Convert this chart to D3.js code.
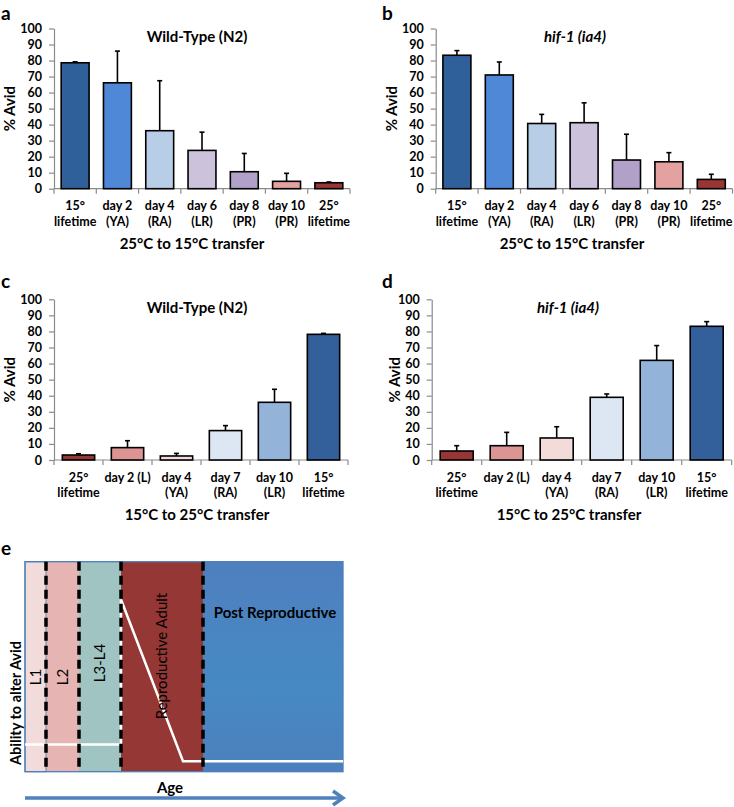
<!DOCTYPE html>
<html><head><meta charset="utf-8">
<script src="https://cdn.jsdelivr.net/npm/d3@7"></script>
<style>
body{margin:0;background:#fff}
svg{display:block}
text{font-family:Lato,"Open Sans",sans-serif;fill:#000}
</style>
</head><body>
<svg id="fig" width="734" height="807"></svg>
<script>
// ---------- DATA ----------
const yTicks = [0,10,20,30,40,50,60,70,80,90,100];

const categoriesAB = ["15°\nlifetime","day 2\n(YA)","day 4\n(RA)","day 6\n(LR)","day 8\n(PR)","day 10\n(PR)","25°\nlifetime"];
const colorsAB = ["#30609a","#4f88d6","#b8cde6","#cdc2db","#b1a0c8","#e3a2a0","#983633"];
const valuesA = [78.6, 66.1, 36.2, 23.9, 10.6, 4.6, 3.7];
const errorsA = [0.6, 19.8, 31.2, 11.4, 11.4, 5.0, 0.5];
const valuesB = [83.3, 71.0, 40.7, 41.2, 17.9, 16.8, 5.8];
const errorsB = [2.9, 8.1, 5.7, 12.4, 16.1, 5.7, 3.2];

const categoriesCD = ["25°\nlifetime","day 2 (L)","day 4\n(YA)","day 7\n(RA)","day 10\n(LR)","15°\nlifetime"];
const colorsCD = ["#983633","#dc9593","#f3dbda","#dde7f3","#94b3d9","#33609a"];
const valuesC = [3.1, 7.7, 2.5, 18.3, 35.9, 78.2];
const errorsC = [0.8, 4.3, 1.6, 3.1, 8.1, 0.6];
const valuesD = [5.6, 8.9, 13.7, 39.0, 62.0, 83.2];
const errorsD = [3.3, 8.3, 7.0, 2.1, 9.2, 2.9];

const titles = ["Wild-Type (N2)","hif-1 (ia4)","Wild-Type (N2)","hif-1 (ia4)"];
const xTitles = ["25°C to 15°C transfer","25°C to 15°C transfer","15°C to 25°C transfer","15°C to 25°C transfer"];
const yTitle = "% Avid";

// panel e schematic
const stageNames = ["L1","L2","L3-L4","Reproductive Adult","Post Reproductive"];
const stageEnds = [21, 54, 96, 178, 318];           // cumulative age units
const stageColors = ["#f2dcdb","#e6b4b3","#9fc4c2","#953735","url(#postGrad)"];
const abilityAge = [0, 96, 96, 158, 318];
const abilityLevel = [0.13, 0.13, 0.82, 0.05, 0.05];

// ---------- LAYOUT ----------
const svg = d3.select("#fig");
const defs = svg.append("defs");
const pg = defs.append("linearGradient").attr("id","postGrad").attr("x1",0).attr("y1",0).attr("x2",0).attr("y2",1);
[["0%","#4e7fbe"],["35%","#4a86c1"],["60%","#4689c3"],["100%","#4d80bd"]].forEach(s=>pg.append("stop").attr("offset",s[0]).attr("stop-color",s[1]));

const panels = [
  {letter:"a", lx:1,   ly:20,  left:54,    right:350,   top:28.5,  bottom:188.7, cats:categoriesAB, colors:colorsAB, vals:valuesA, errs:errorsA, title:titles[0], italic:false, tx:197, ylx:9.5, xtx:192},
  {letter:"b", lx:382, ly:20,  left:435.7, right:732.5, top:28.5,  bottom:188.7, cats:categoriesAB, colors:colorsAB, vals:valuesB, errs:errorsB, title:titles[1], italic:true,  tx:575, ylx:392, xtx:572},
  {letter:"c", lx:1,   ly:288, left:54,    right:348,   top:299.3, bottom:460,   cats:categoriesCD, colors:colorsCD, vals:valuesC, errs:errorsC, title:titles[2], italic:false, tx:197, ylx:9.5, xtx:197},
  {letter:"d", lx:382, ly:288, left:431.7, right:731.7, top:299.3, bottom:460,   cats:categoriesCD, colors:colorsCD, vals:valuesD, errs:errorsD, title:titles[3], italic:true,  tx:568, ylx:395, xtx:569}
];

panels.forEach((p,pi)=>{
  const g = svg.append("g");
  const y = d3.scaleLinear().domain([0,100]).range([p.bottom,p.top]);
  const x = d3.scaleBand().domain(p.cats).range([p.left,p.right]).paddingInner(0.34).paddingOuter(0.17);
  const step = x.step();

  // y axis
  const ya = g.append("g").attr("transform",`translate(${p.left},0)`)
    .call(d3.axisLeft(y).tickValues(yTicks).tickSize(5).tickSizeOuter(0).tickPadding(7));
  ya.select(".domain").attr("stroke","#8a8a8a").attr("stroke-width",1.2);
  ya.selectAll(".tick line").attr("stroke","#8a8a8a").attr("stroke-width",1.2);
  ya.selectAll(".tick text").attr("font-family","Lato").attr("font-weight","bold").attr("font-size",12.5).attr("fill","#000");

  // x axis line + boundary ticks
  g.append("line").attr("x1",p.left).attr("x2",p.right).attr("y1",y(0)).attr("y2",y(0))
    .attr("stroke","#8a8a8a").attr("stroke-width",1.2);
  g.selectAll(".xt").data(d3.range(p.cats.length+1)).join("line")
    .attr("x1",i=>p.left+i*step).attr("x2",i=>p.left+i*step)
    .attr("y1",y(0)).attr("y2",y(0)+5).attr("stroke","#8a8a8a").attr("stroke-width",1.2);

  // bars
  g.selectAll(".bar").data(p.vals).join("rect")
    .attr("x",(d,i)=>x(p.cats[i])).attr("width",x.bandwidth())
    .attr("y",d=>y(d)).attr("height",d=>y(0)-y(d))
    .attr("fill",(d,i)=>p.colors[i]).attr("stroke","#000").attr("stroke-width",1.6);

  // error bars (upper only)
  p.vals.forEach((v,i)=>{
    const cx = x(p.cats[i]) + x.bandwidth()/2;
    g.append("line").attr("x1",cx).attr("x2",cx).attr("y1",y(v)).attr("y2",y(v+p.errs[i]))
      .attr("stroke","#000").attr("stroke-width",1.6);
    g.append("line").attr("x1",cx-2.5).attr("x2",cx+2.5).attr("y1",y(v+p.errs[i])).attr("y2",y(v+p.errs[i]))
      .attr("stroke","#000").attr("stroke-width",1.6);
  });

  // category labels
  p.cats.forEach(c=>{
    const cx = x(c) + x.bandwidth()/2;
    c.split("\n").forEach((line,li)=>{
      g.append("text").attr("x",cx).attr("y",y(0)+21.5+li*15.5).attr("text-anchor","middle")
        .attr("font-weight","bold").attr("font-size",12.5).text(line);
    });
  });

  // titles
  g.append("text").attr("x",p.tx).attr("y",p.top+13.5).attr("text-anchor","middle")
    .attr("font-weight","bold").attr("font-size",15).attr("font-style",p.italic?"italic":"normal").text(p.title);
  g.append("text").attr("x",p.xtx).attr("y",y(0)+60).attr("text-anchor","middle")
    .attr("font-weight","bold").attr("font-size",15).text(xTitles[pi]);
  g.append("text").attr("transform",`translate(${p.ylx},${(p.top+p.bottom)/2}) rotate(-90)`)
    .attr("text-anchor","middle").attr("dy","0.35em").attr("font-weight","bold").attr("font-size",15).text(yTitle);

  // panel letter
  g.append("text").attr("x",p.lx).attr("y",p.ly).attr("font-family","'Liberation Sans',Arial,sans-serif")
    .attr("font-weight","bold").attr("font-size",19).text(p.letter);
});

// ---------- PANEL e ----------
const eBox = {left:25, right:343, top:561.7, bottom:771.7};
const age = d3.scaleLinear().domain([0, stageEnds[stageEnds.length-1]]).range([eBox.left, eBox.right]);
const ability = d3.scaleLinear().domain([0,1]).range([eBox.bottom, eBox.top]);
const ge = svg.append("g");
const stageStarts = [0].concat(stageEnds.slice(0,-1));

ge.selectAll(".stage").data(stageNames).join("rect")
  .attr("x",(d,i)=>age(stageStarts[i])).attr("width",(d,i)=>age(stageEnds[i])-age(stageStarts[i]))
  .attr("y",eBox.top).attr("height",eBox.bottom-eBox.top)
  .attr("fill",(d,i)=>stageColors[i]);
// L1 outline
ge.append("rect").attr("x",age(0)).attr("y",eBox.top).attr("width",age(stageEnds[0])-age(0)).attr("height",eBox.bottom-eBox.top)
  .attr("fill","none").attr("stroke","#6f86a8").attr("stroke-width",1);
// box border
ge.append("rect").attr("x",eBox.left).attr("y",eBox.top).attr("width",eBox.right-eBox.left).attr("height",eBox.bottom-eBox.top)
  .attr("fill","none").attr("stroke","#4a7ebb").attr("stroke-width",1.3);

// ability line
ge.append("path").attr("d",d3.line().x((d,i)=>age(abilityAge[i])).y(d=>ability(d))(abilityLevel))
  .attr("fill","none").attr("stroke","#fff").attr("stroke-width",2.5);

// dashed stage boundaries
ge.selectAll(".dash").data(stageEnds.slice(0,-1)).join("line")
  .attr("x1",d=>age(d)).attr("x2",d=>age(d)).attr("y1",eBox.top).attr("y2",eBox.bottom)
  .attr("stroke","#000").attr("stroke-width",3.5).attr("stroke-dasharray","9,5");

// stage labels
const stageLabelY = [677, 677, 663, 656];
stageNames.slice(0,4).forEach((n,i)=>{
  const cx = (age(stageStarts[i])+age(stageEnds[i]))/2;
  ge.append("text").attr("transform",`translate(${cx},${stageLabelY[i]}) rotate(-90)`)
    .attr("text-anchor","middle").attr("dy","0.35em").attr("font-size",15).text(n);
});
ge.append("text").attr("x",(age(stageStarts[4])+age(stageEnds[4]))/2+2).attr("y",618).attr("text-anchor","middle")
  .attr("font-weight","bold").attr("font-size",15).text(stageNames[4]);

// axis labels
ge.append("text").attr("transform",`translate(16,703) rotate(-90)`).attr("text-anchor","middle").attr("dy","0.35em")
  .attr("font-weight","bold").attr("font-size",14.5).text("Ability to alter Avid");
ge.append("text").attr("x",170).attr("y",793).attr("text-anchor","middle").attr("font-weight","bold").attr("font-size",15).text("Age");

// age arrow
ge.append("line").attr("x1",eBox.left).attr("x2",eBox.right-2).attr("y1",798).attr("y2",798)
  .attr("stroke","#4f81bd").attr("stroke-width",3.5);
ge.append("polyline").attr("points",`${eBox.right-10},791 ${eBox.right},798 ${eBox.right-10},805`)
  .attr("fill","none").attr("stroke","#4f81bd").attr("stroke-width",3.5);

// panel letter e
svg.append("text").attr("x",1).attr("y",555).attr("font-family","'Liberation Sans',Arial,sans-serif")
  .attr("font-weight","bold").attr("font-size",19).text("e");
</script>
</body></html>
